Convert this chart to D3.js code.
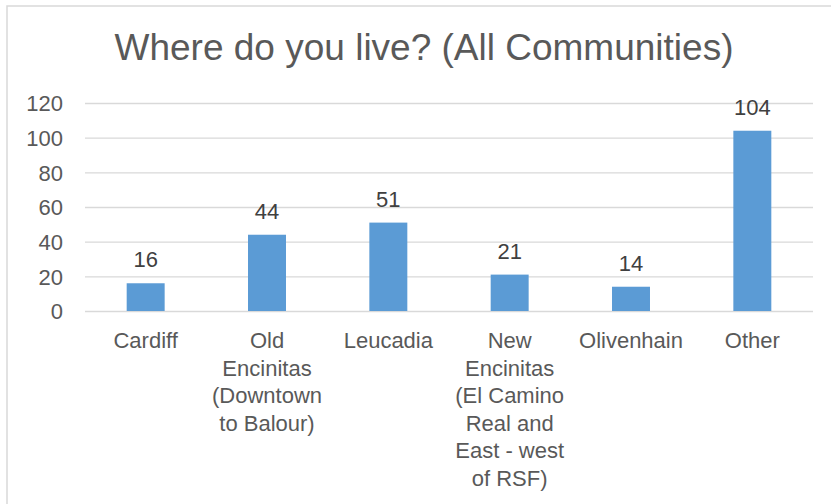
<!DOCTYPE html>
<html>
<head>
<meta charset="utf-8">
<script src="https://cdn.jsdelivr.net/npm/d3@7"></script>
<style>
  body { margin: 0; background: #fff; }
  text { font-family: "Liberation Sans", Arial, sans-serif; }
</style>
</head>
<body>
<div id="chart"></div>
<script>
// data
const categories = ["Cardiff", "Old Encinitas (Downtown to Balour)", "Leucadia",
    "New Encinitas (El Camino Real and East - west of RSF)", "Olivenhain", "Other"];
const counts = [16, 44, 51, 21, 14, 104];
const yTicks = [0, 20, 40, 60, 80, 100, 120];
const title = "Where do you live? (All Communities)";

const W = 831, H = 504;
const plot = { left: 85, right: 813, top: 103, bottom: 311 };

const svg = d3.select("#chart")
    .append("svg")
    .attr("width", W)
    .attr("height", H);

// chart area border (runs off the right/bottom edge)
svg.append("rect")
    .attr("x", 7).attr("y", 6)
    .attr("width", 1000).attr("height", 1000)
    .attr("fill", "#fff")
    .attr("stroke", "#d9d9d9")
    .attr("stroke-width", 1.5);

// title
svg.append("text")
    .attr("x", 424)
    .attr("y", 60)
    .attr("text-anchor", "middle")
    .style("font-size", "37px")
    .style("fill", "#595959")
    .text(title);

// scales
const x = d3.scaleBand()
    .domain(categories)
    .range([plot.left, plot.right])
    .paddingInner(0.687)
    .paddingOuter(0.3435);

const y = d3.scaleLinear()
    .domain([0, 120])
    .range([plot.bottom, plot.top]);

// gridlines + y labels
const yAxis = svg.append("g")
    .attr("transform", `translate(${plot.left},0)`)
    .call(d3.axisLeft(y).tickValues(yTicks).tickSize(-(plot.right - plot.left)).tickPadding(22));
yAxis.select(".domain").remove();
yAxis.selectAll(".tick line")
    .attr("stroke", "#d9d9d9")
    .attr("stroke-width", 1.3);
yAxis.selectAll(".tick text")
    .style("font-size", "22px")
    .style("fill", "#595959")
    .attr("dy", "0.35em");

// bars
svg.selectAll("rect.bar")
    .data(counts)
    .join("rect")
    .attr("class", "bar")
    .attr("x", (d, i) => x(categories[i]))
    .attr("y", d => y(d))
    .attr("width", x.bandwidth())
    .attr("height", d => y(0) - y(d))
    .attr("fill", "#5b9bd5");

// value labels
svg.selectAll("text.val")
    .data(counts)
    .join("text")
    .attr("class", "val")
    .attr("x", (d, i) => x(categories[i]) + x.bandwidth() / 2)
    .attr("y", d => y(d) - 16)
    .attr("text-anchor", "middle")
    .style("font-size", "22px")
    .style("fill", "#404040")
    .text(d => d);

// category labels, wrapped to the category width
const step = x.step();
const measure = svg.append("text").style("font-size", "22px");
function wrap(str, maxW) {
    const words = str.split(" ");
    const lines = [];
    let cur = "";
    words.forEach(w => {
        const test = cur ? cur + " " + w : w;
        measure.text(test);
        if (cur && measure.node().getComputedTextLength() > maxW) {
            lines.push(cur);
            cur = w;
        } else {
            cur = test;
        }
    });
    if (cur) lines.push(cur);
    return lines;
}

categories.forEach((c, i) => {
    const lines = wrap(c, step - 2);
    const t = svg.append("text")
        .attr("text-anchor", "middle")
        .style("font-size", "22px")
        .style("fill", "#595959");
    lines.forEach((l, j) => {
        t.append("tspan")
            .attr("x", x(c) + x.bandwidth() / 2)
            .attr("y", 348 + j * 27.6)
            .text(l);
    });
});
measure.remove();
</script>
</body>
</html>
